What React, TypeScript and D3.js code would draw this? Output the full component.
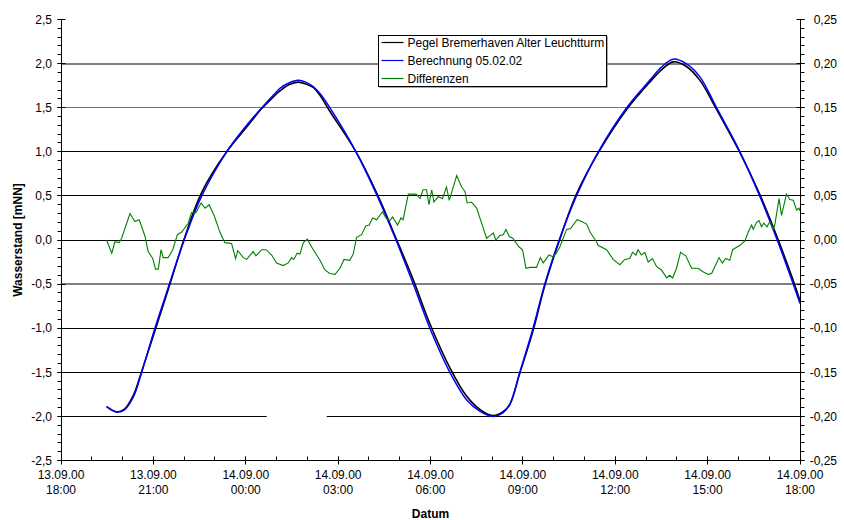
import React from 'react'
import * as d3 from 'd3'

// Pegel Bremerhaven, 13.09.00 18:00 – 14.09.00 18:00
const startTime = new Date(2000, 8, 13, 18, 0)
const endTime = new Date(2000, 8, 14, 18, 0)

// Stunden nach 13.09.00 18:00
const tideHours = [1.48, 1.81, 2.05, 2.35, 2.62, 3.05, 3.52, 4.0, 4.57, 5.38, 6.03, 6.52, 6.89, 7.11, 7.4, 7.7, 7.95, 8.19, 8.41, 8.73, 9.58, 10.27, 10.88, 11.44, 11.98, 12.63, 13.17, 13.6, 14.02, 14.35, 14.58, 14.9, 15.33, 15.71, 16.18, 16.74, 17.45, 18.37, 19.12, 19.5, 19.88, 20.3, 20.75, 21.29, 22.05, 22.69, 23.26, 23.78, 24.0]
// Wasserstand [mNN]
const pegel = [-1.89, -1.95, -1.92, -1.76, -1.49, -1.03, -0.52, 0.01, 0.54, 1.0, 1.28, 1.49, 1.62, 1.69, 1.76, 1.79, 1.77, 1.73, 1.64, 1.46, 1.0, 0.52, 0.02, -0.45, -0.95, -1.45, -1.77, -1.92, -1.99, -1.95, -1.86, -1.51, -1.03, -0.52, -0.01, 0.52, 0.99, 1.48, 1.79, 1.93, 2.02, 1.97, 1.81, 1.48, 0.99, 0.52, 0.03, -0.46, -0.69]
const berechnung = [-1.89, -1.95, -1.93, -1.78, -1.5, -1.0, -0.5, 0.0, 0.5, 1.0, 1.3, 1.5, 1.64, 1.72, 1.78, 1.81, 1.79, 1.74, 1.66, 1.5, 1.0, 0.5, 0.0, -0.5, -1.0, -1.5, -1.81, -1.94, -2.0, -1.96, -1.86, -1.5, -1.0, -0.5, 0.0, 0.5, 1.0, 1.5, 1.81, 1.96, 2.05, 2.0, 1.85, 1.5, 1.0, 0.5, 0.0, -0.5, -0.72]

// Differenzen [m], rechte Achse: [Stunde, Wert]
const differenzen: [number, number][] = [
  [1.48, 0.0], [1.65, -0.015], [1.75, -0.002], [1.89, -0.003], [1.97, 0.002], [2.24, 0.03], [2.4, 0.021], [2.54, 0.023],
  [2.73, 0.004], [2.83, -0.013], [2.98, -0.021], [3.07, -0.033], [3.16, -0.033], [3.25, -0.011], [3.32, -0.02], [3.48, -0.02],
  [3.63, -0.011], [3.78, 0.006], [3.92, 0.009], [4.13, 0.019], [4.24, 0.031], [4.38, 0.031], [4.55, 0.042], [4.68, 0.036],
  [4.81, 0.04], [4.97, 0.028], [5.16, 0.009], [5.32, -0.003], [5.54, -0.004], [5.67, -0.021], [5.74, -0.012], [5.92, -0.02],
  [6.03, -0.022], [6.24, -0.013], [6.33, -0.018], [6.52, -0.011], [6.66, -0.011], [6.84, -0.017], [7.0, -0.026], [7.22, -0.029],
  [7.38, -0.026], [7.49, -0.02], [7.56, -0.022], [7.67, -0.015], [7.76, -0.016], [7.87, -0.003], [8.0, 0.001], [8.14, -0.008],
  [8.41, -0.023], [8.57, -0.034], [8.73, -0.038], [8.9, -0.039], [9.06, -0.032], [9.19, -0.022], [9.38, -0.023], [9.49, -0.016],
  [9.6, 0.003], [9.76, 0.006], [9.9, 0.016], [10.01, 0.017], [10.12, 0.025], [10.25, 0.023], [10.44, 0.032], [10.55, 0.025],
  [10.68, 0.022], [10.77, 0.026], [10.93, 0.017], [11.04, 0.025], [11.11, 0.023], [11.28, 0.052], [11.53, 0.052], [11.66, 0.047],
  [11.76, 0.057], [11.87, 0.057], [11.95, 0.04], [12.04, 0.057], [12.11, 0.043], [12.25, 0.049], [12.39, 0.047], [12.52, 0.06],
  [12.61, 0.045], [12.85, 0.073], [13.01, 0.06], [13.12, 0.055], [13.19, 0.042], [13.33, 0.043], [13.5, 0.036], [13.69, 0.016],
  [13.82, 0.002], [13.93, 0.005], [14.04, 0.008], [14.12, 0.0], [14.25, 0.005], [14.36, 0.006], [14.45, 0.012], [14.56, 0.004],
  [14.67, 0.002], [14.88, -0.008], [14.99, -0.011], [15.1, -0.032], [15.23, -0.031], [15.44, -0.031], [15.57, -0.02], [15.66, -0.026],
  [15.85, -0.017], [15.98, -0.019], [16.09, -0.015], [16.2, -0.008], [16.31, 0.002], [16.42, 0.012], [16.55, 0.013], [16.76, 0.023],
  [16.91, 0.021], [17.07, 0.018], [17.18, 0.009], [17.39, -0.002], [17.44, -0.006], [17.72, -0.011], [17.93, -0.022], [18.15, -0.028],
  [18.31, -0.022], [18.47, -0.021], [18.56, -0.014], [18.67, -0.017], [18.74, -0.011], [18.85, -0.017], [18.96, -0.014], [19.07, -0.025],
  [19.21, -0.021], [19.34, -0.03], [19.5, -0.034], [19.67, -0.043], [19.77, -0.04], [19.86, -0.043], [19.99, -0.032], [20.12, -0.014],
  [20.29, -0.018], [20.48, -0.032], [20.69, -0.032], [20.85, -0.036], [21.02, -0.039], [21.13, -0.038], [21.29, -0.026], [21.37, -0.02],
  [21.48, -0.026], [21.59, -0.021], [21.72, -0.023], [21.81, -0.011], [22.05, -0.006], [22.21, -0.001], [22.32, 0.009], [22.43, 0.017],
  [22.48, 0.012], [22.59, 0.02], [22.67, 0.022], [22.75, 0.015], [22.82, 0.019], [22.93, 0.015], [23.02, 0.021], [23.13, 0.012],
  [23.18, 0.017], [23.32, 0.047], [23.4, 0.028], [23.56, 0.052], [23.67, 0.046], [23.78, 0.045], [23.89, 0.034], [23.97, 0.036],
  [24.0, 0.033],
]

const seriesNames = ['Pegel Bremerhaven Alter Leuchtturm', 'Berechnung 05.02.02', 'Differenzen']
const seriesColors = ['#000000', '#0000ff', '#008000']

// Lücke in der -2,0 Gitterlinie (Stunden)
const gridGap = [6.68, 8.63]

const locale = d3.formatLocale({ decimal: ',', thousands: '.', grouping: [3], currency: ['', ' €'], minus: '-' })
const fmtLeft = locale.format('.1f')
const fmtRight = locale.format('.2f')
const fmtDate = d3.timeFormat('%d.%m.%y')
const fmtTime = d3.timeFormat('%H:%M')

const FONT = '"Liberation Sans", Arial, sans-serif'

export default function App() {
  const width = 844
  const height = 520
  const left = 61
  const right = 800
  const top = 19.5
  const bottom = 460.5

  const atHour = (h: number) => new Date(startTime.getTime() + h * 3600000)

  const x = d3.scaleTime().domain([startTime, endTime]).range([left, right])
  const y = d3.scaleLinear().domain([-2.5, 2.5]).range([bottom, top])
  const y2 = d3.scaleLinear().domain([-0.25, 0.25]).range([bottom, top])
  const px = (v: number) => Math.floor(v) + 0.5

  const tideLine = (vals: number[]) =>
    d3.line<number>()
      .x((_, i) => x(atHour(tideHours[i])))
      .y(d => y(d))
      .curve(d3.curveCatmullRom.alpha(0.5))(vals) || ''

  const diffLine = d3.line<[number, number]>()
    .x(d => x(atHour(d[0])))
    .y(d => y2(d[1]))(differenzen) || ''

  const majorY = y.ticks(10)
  const minorY = y.ticks(50)
  const majorY2 = y2.ticks(10)
  const minorY2 = y2.ticks(50)
  const majorX = x.ticks(d3.timeHour.every(3)!)
  const minorX = x.ticks(d3.timeHour.every(1)!)

  const gridStyle = (v: number) => {
    if (Math.abs(v - 2) < 1e-9 || Math.abs(v + 0.5) < 1e-9) return { stroke: '#808080', w: 2 }
    if (Math.abs(v - 1.5) < 1e-9) return { stroke: '#777777', w: 1 }
    return { stroke: '#000000', w: 1 }
  }

  const xAxisY = px(bottom)
  const yAxisX = px(left)
  const y2AxisX = px(right)

  const legendX = 378.5
  const legendY = 35.5
  const legendW = 228
  const legendH = 51

  return (
    <svg width={width} height={height} style={{ position: 'absolute', left: 0, top: 0, background: '#fff' }} fontFamily={FONT}>
      <rect x={0} y={0} width={width} height={height} fill="#fff" />

      {/* Gitterlinien */}
      {majorY.filter(v => v > -2.5 && v < 2.5).map(v => {
        const s = gridStyle(v)
        const yy = s.w === 2 ? Math.round(y(v)) : px(y(v))
        if (Math.abs(v + 2) < 1e-9) {
          return (
            <g key={v}>
              <line x1={left} x2={x(atHour(gridGap[0]))} y1={yy} y2={yy} stroke={s.stroke} strokeWidth={s.w} />
              <line x1={x(atHour(gridGap[1]))} x2={right} y1={yy} y2={yy} stroke={s.stroke} strokeWidth={s.w} />
            </g>
          )
        }
        return <line key={v} x1={left} x2={right} y1={yy} y2={yy} stroke={s.stroke} strokeWidth={s.w} />
      })}

      {/* Serien */}
      <path d={tideLine(pegel)} fill="none" stroke={seriesColors[0]} strokeWidth={1.6} />
      <path d={tideLine(berechnung)} fill="none" stroke={seriesColors[1]} strokeWidth={1.5} />
      <path d={diffLine} fill="none" stroke={seriesColors[2]} strokeWidth={1.1} />

      {/* Achsen */}
      <line x1={yAxisX} x2={yAxisX} y1={top} y2={xAxisY} stroke="#000" />
      <line x1={y2AxisX} x2={y2AxisX} y1={top} y2={xAxisY} stroke="#000" />
      <line x1={left} x2={right} y1={xAxisY} y2={xAxisY} stroke="#000" />

      {minorY.map(v => (
        <line key={'mly' + v} x1={yAxisX - 4} x2={yAxisX} y1={px(y(v))} y2={px(y(v))} stroke="#000" />
      ))}
      {majorY.map(v => (
        <g key={'ly' + v}>
          <line x1={yAxisX - 4} x2={yAxisX + 4} y1={px(y(v))} y2={px(y(v))} stroke="#000" />
          <text x={52} y={y(v)} dy="0.35em" textAnchor="end" fontSize={12}>{fmtLeft(v)}</text>
        </g>
      ))}

      {minorY2.map(v => (
        <line key={'mry' + v} x1={y2AxisX} x2={y2AxisX + 4} y1={px(y2(v))} y2={px(y2(v))} stroke="#000" />
      ))}
      {majorY2.map(v => (
        <g key={'ry' + v}>
          <line x1={y2AxisX - 4} x2={y2AxisX + 4} y1={px(y2(v))} y2={px(y2(v))} stroke="#000" />
          <text x={837} y={y2(v)} dy="0.35em" textAnchor="end" fontSize={12}>{fmtRight(v)}</text>
        </g>
      ))}

      {minorX.map(d => (
        <line key={'mx' + d.getTime()} x1={px(x(d))} x2={px(x(d))} y1={xAxisY - 4} y2={xAxisY} stroke="#000" />
      ))}
      {majorX.map(d => (
        <g key={'x' + d.getTime()}>
          <line x1={px(x(d))} x2={px(x(d))} y1={xAxisY - 4} y2={xAxisY + 4} stroke="#000" />
          <text x={x(d)} y={475} dy="0.35em" textAnchor="middle" fontSize={12}>{fmtDate(d)}</text>
          <text x={x(d)} y={490} dy="0.35em" textAnchor="middle" fontSize={12}>{fmtTime(d)}</text>
        </g>
      ))}

      {/* Achsentitel */}
      <text x={(left + right) / 2} y={513.5} dy="0.35em" textAnchor="middle" fontSize={12} fontWeight="bold">Datum</text>
      <text transform={`translate(18,${(top + bottom) / 2}) rotate(-90)`} dy="0.35em" textAnchor="middle" fontSize={12} fontWeight="bold">Wasserstand [mNN]</text>

      {/* Legende */}
      <rect x={legendX + 1} y={legendY + 1} width={legendW} height={legendH} fill="#555" />
      <rect x={legendX} y={legendY} width={legendW} height={legendH} fill="#fff" stroke="#000" />
      {seriesNames.map((name, i) => (
        <g key={name} transform={`translate(${legendX + 3},${legendY + 7 + i * 18})`}>
          <line x1={0} x2={22} y1={0} y2={0} stroke={seriesColors[i]} strokeWidth={1.2} />
          <text x={26} y={0} dy="0.35em" fontSize={12}>{name}</text>
        </g>
      ))}
    </svg>
  )
}
